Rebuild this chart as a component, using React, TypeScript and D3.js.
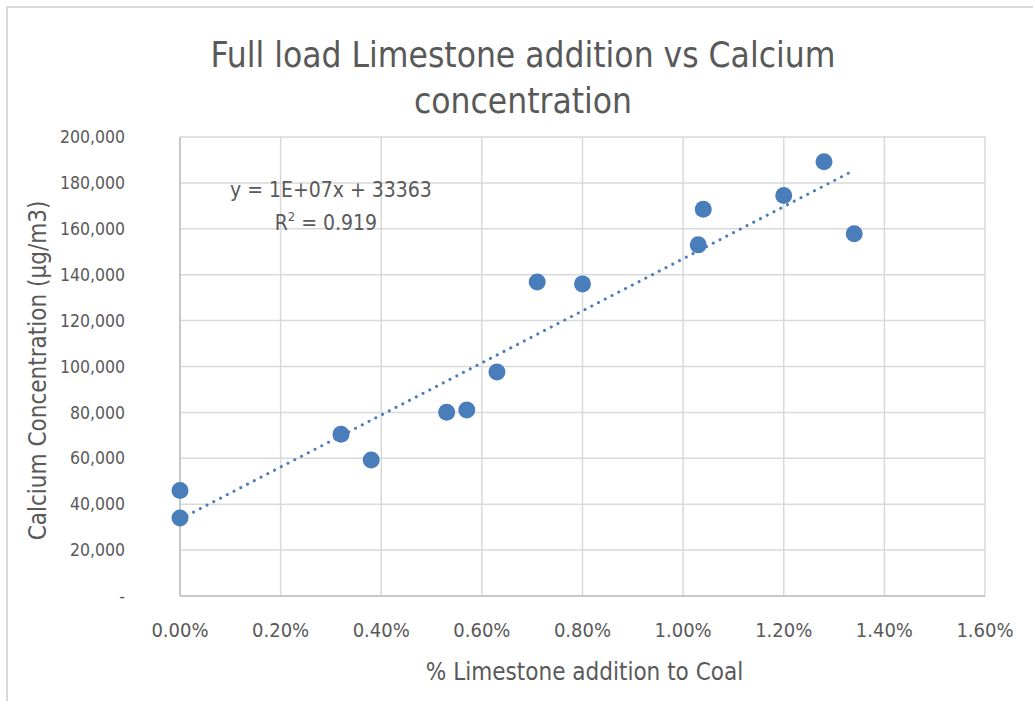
import React, { useEffect, useRef } from "react";
import * as d3 from "d3";

// limestone addition (fraction of coal) and calcium concentration (µg/m3)
const limestone = [0, 0, 0.0032, 0.0038, 0.0053, 0.0057, 0.0063, 0.0071, 0.008, 0.0103, 0.0104, 0.012, 0.0128, 0.0134];
const calcium = [46000, 34000, 70500, 59300, 80100, 81000, 97600, 136800, 136000, 153000, 168500, 174500, 189200, 157800];
const xTicks = [0, 0.002, 0.004, 0.006, 0.008, 0.01, 0.012, 0.014, 0.016];
const yTicks = [0, 20000, 40000, 60000, 80000, 100000, 120000, 140000, 160000, 180000, 200000];
const titleLines = ["Full load Limestone addition vs Calcium", "concentration"];

const App = () => {
  const svgRef = useRef<SVGSVGElement>(null);

  useEffect(() => {
    const W = 1033;
    const H = 701;
    const margin = { top: 137, right: 48, bottom: 105, left: 180 };
    const width = W - margin.left - margin.right;
    const height = H - margin.top - margin.bottom;
    const font = "'Liberation Sans Narrow', 'DejaVu Sans Condensed', sans-serif";
    const textColor = "#595959";
    const blue = "#4a7ebb";

    const svg = d3.select(svgRef.current);
    svg.selectAll("*").remove();
    svg.attr("width", W).attr("height", H);

    svg.append("rect").attr("width", W).attr("height", H).attr("fill", "#fff");
    // chart frame (extends past the photo edge)
    svg.append("rect")
      .attr("x", 7).attr("y", 7).attr("width", W + 20).attr("height", H + 20)
      .attr("fill", "none").attr("stroke", "#d9d9d9").attr("stroke-width", 2);

    const x = d3.scaleLinear().domain([0, 0.016]).range([0, width]);
    const y = d3.scaleLinear().domain([0, 200000]).range([height, 0]);

    const g = svg.append("g").attr("transform", `translate(${margin.left},${margin.top})`);

    // grid
    g.selectAll(".vgrid").data(xTicks).enter().append("line")
      .attr("x1", (d) => x(d)).attr("x2", (d) => x(d))
      .attr("y1", 0).attr("y2", height)
      .attr("stroke", "#d9d9d9").attr("stroke-width", 1.5);
    g.selectAll(".hgrid").data(yTicks).enter().append("line")
      .attr("x1", 0).attr("x2", width)
      .attr("y1", (d) => y(d)).attr("y2", (d) => y(d))
      .attr("stroke", "#d9d9d9").attr("stroke-width", 1.5);
    g.append("line").attr("x1", 0).attr("x2", 0).attr("y1", 0).attr("y2", height)
      .attr("stroke", "#bfbfbf").attr("stroke-width", 1.5);
    g.append("line").attr("x1", 0).attr("x2", width).attr("y1", height).attr("y2", height)
      .attr("stroke", "#bfbfbf").attr("stroke-width", 1.5);

    // tick labels
    const fmtY = (d: number) => (d === 0 ? "-" : d3.format(",")(d));
    g.selectAll(".ylab").data(yTicks).enter().append("text")
      .attr("x", -55).attr("y", (d) => y(d)).attr("dy", "0.35em")
      .attr("text-anchor", "end")
      .attr("font-family", font).attr("font-size", 17.5).attr("fill", textColor)
      .text(fmtY);
    g.selectAll(".xlab").data(xTicks).enter().append("text")
      .attr("x", (d) => x(d)).attr("y", height + 41)
      .attr("text-anchor", "middle")
      .attr("font-family", font).attr("font-size", 20).attr("fill", textColor)
      .text((d) => d3.format(".2%")(d));

    // trendline (least squares)
    const data = limestone.map((v, i) => ({ x: v, y: calcium[i] }));
    const mx = d3.mean(limestone) as number;
    const my = d3.mean(calcium) as number;
    const sxy = d3.sum(data, (d) => (d.x - mx) * (d.y - my));
    const sxx = d3.sum(data, (d) => (d.x - mx) ** 2);
    const slope = sxy / sxx;
    const intercept = my - slope * mx;
    const [x0, x1] = d3.extent(limestone) as [number, number];
    const trend = d3.line<number>().x((d) => x(d)).y((d) => y(intercept + slope * d));
    g.append("path")
      .datum([x0, x1])
      .attr("d", trend)
      .attr("fill", "none").attr("stroke", blue).attr("stroke-width", 3)
      .attr("stroke-linecap", "round").attr("stroke-dasharray", "0.1 7.5");

    // points
    g.selectAll("circle").data(data).enter().append("circle")
      .attr("cx", (d) => x(d.x)).attr("cy", (d) => y(d.y))
      .attr("r", 8.5).attr("fill", blue);

    // equation label
    const eq = g.append("text")
      .attr("x", x(0.003)).attr("y", y(173800))
      .attr("text-anchor", "middle")
      .attr("font-family", font).attr("font-size", 21).attr("fill", textColor);
    eq.append("tspan").text("y = 1E+07x + 33363");
    const r2 = g.append("text")
      .attr("x", x(0.0029)).attr("y", y(159500))
      .attr("text-anchor", "middle")
      .attr("font-family", font).attr("font-size", 21).attr("fill", textColor);
    r2.append("tspan").text("R");
    r2.append("tspan").attr("dy", -9).attr("font-size", 13).text("2");
    r2.append("tspan").attr("dy", 9).text(" = 0.919");

    // titles
    svg.selectAll(".title").data(titleLines).enter().append("text")
      .attr("x", 523).attr("y", (d, i) => 67 + i * 46)
      .attr("text-anchor", "middle")
      .attr("font-family", font).attr("font-size", 35).attr("fill", textColor)
      .text((d) => d);
    svg.append("text")
      .attr("x", margin.left + width / 2 + 2).attr("y", 680)
      .attr("text-anchor", "middle")
      .attr("font-family", font).attr("font-size", 24).attr("fill", textColor)
      .text("% Limestone addition to Coal");
    svg.append("text")
      .attr("transform", `translate(46,${margin.top + height / 2 + 4}) rotate(-90)`)
      .attr("text-anchor", "middle")
      .attr("font-family", font).attr("font-size", 24).attr("fill", textColor)
      .text("Calcium Concentration (µg/m3)");
  }, []);

  return <svg ref={svgRef} style={{ display: "block", position: "absolute", left: 0, top: 0 }}></svg>;
};

export default App;
